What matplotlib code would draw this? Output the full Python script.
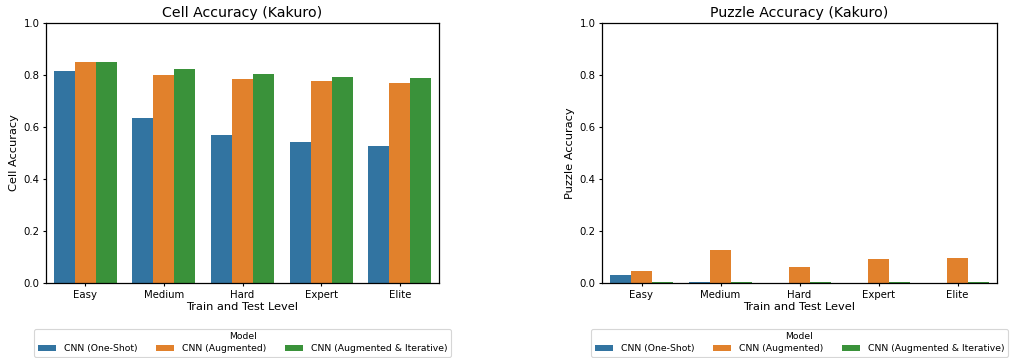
import matplotlib
matplotlib.use("Agg")
import matplotlib.pyplot as plt
import numpy as np

levels = ["Easy", "Medium", "Hard", "Expert", "Elite"]
models = ["CNN (One-Shot)", "CNN (Augmented)", "CNN (Augmented & Iterative)"]
colors = ["#3274a1", "#e1812c", "#3a923a"]

cell_acc = {
    "CNN (One-Shot)": [0.816, 0.635, 0.569, 0.542, 0.527],
    "CNN (Augmented)": [0.851, 0.800, 0.785, 0.778, 0.770],
    "CNN (Augmented & Iterative)": [0.851, 0.824, 0.805, 0.793, 0.789],
}
puzzle_acc = {
    "CNN (One-Shot)": [0.032, 0.002, 0.001, 0.001, 0.001],
    "CNN (Augmented)": [0.045, 0.126, 0.060, 0.091, 0.095],
    "CNN (Augmented & Iterative)": [0.002, 0.002, 0.002, 0.002, 0.002],
}

W, H = 1011, 358
fig = plt.figure(figsize=(W/100, H/100), dpi=100)
ax1 = fig.add_axes([46/W, 1-283/H, (439-46)/W, (283-23)/H])
ax2 = fig.add_axes([602/W, 1-283/H, (997-602)/W, (283-23)/H])

def draw(ax, data, title, ylabel):
    x = np.arange(len(levels))
    w = 0.8/3
    for i, m in enumerate(models):
        ax.bar(x + (i-1)*w, data[m], width=w, color=colors[i], label=m)
    ax.set_xticks(x)
    ax.set_xticklabels(levels, fontsize=7.3)
    ax.set_ylim(0, 1.0)
    ax.set_yticks([0, 0.2, 0.4, 0.6, 0.8, 1.0])
    ax.set_yticklabels(["0.0", "0.2", "0.4", "0.6", "0.8", "1.0"], fontsize=7.3)
    ax.tick_params(length=2.5, pad=2.2, width=0.8)
    ax.set_xlim(-0.5, len(levels)-0.5)
    ax.set_title(title, fontsize=10.2, pad=4)
    ax.set_ylabel(ylabel, fontsize=8.2, labelpad=3)
    ax.set_xlabel("Train and Test Level", fontsize=8.2, labelpad=1.5)
    for s in ax.spines.values():
        s.set_linewidth(0.9)
    pos = ax.get_position()
    leg = ax.legend(title="Model", ncol=3, loc="upper center",
                    bbox_to_anchor=(pos.x0 + pos.width/2, 1-324/H),
                    bbox_transform=fig.transFigure,
                    fontsize=6.7, title_fontsize=6.7,
                    handlelength=2.0, handleheight=0.6, columnspacing=2.0,
                    borderpad=0.4, labelspacing=0.3, frameon=True, fancybox=True)
    leg.get_frame().set_edgecolor("#cccccc")
    leg.get_frame().set_linewidth(0.8)

draw(ax1, cell_acc, "Cell Accuracy (Kakuro)", "Cell Accuracy")
draw(ax2, puzzle_acc, "Puzzle Accuracy (Kakuro)", "Puzzle Accuracy")

fig.savefig("out.png", dpi=100)
